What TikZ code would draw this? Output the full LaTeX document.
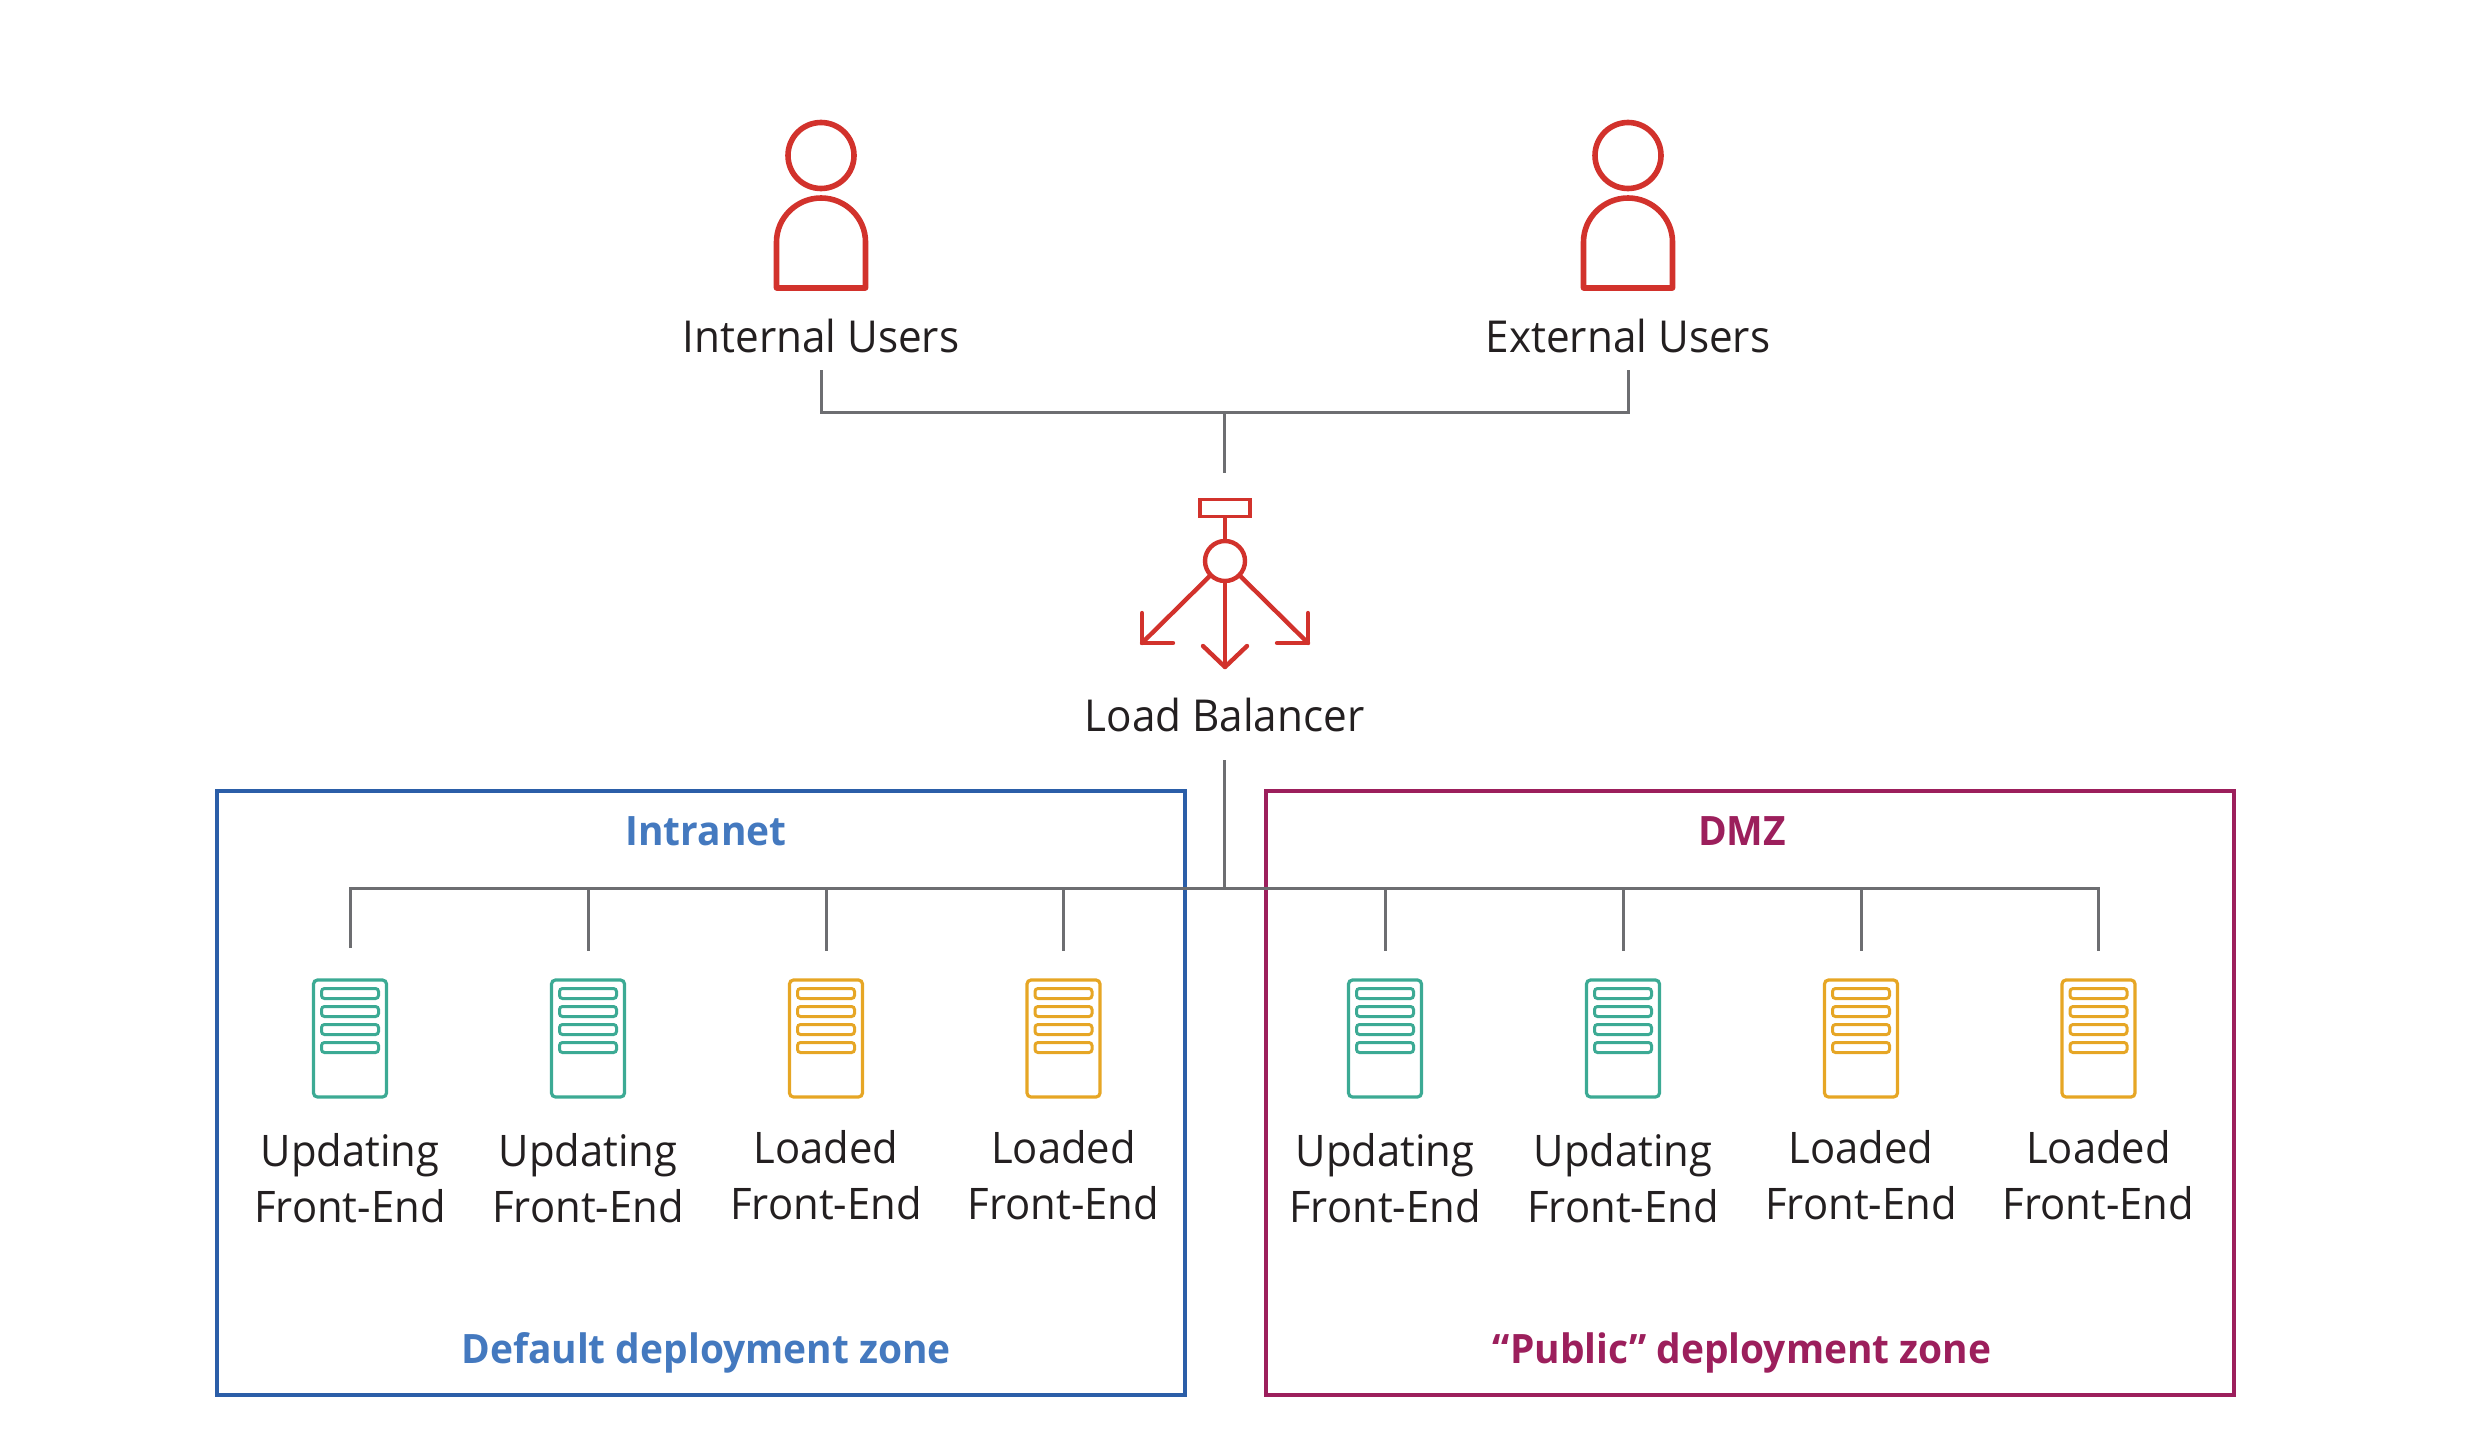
\documentclass[tikz,border=0pt]{standalone}
\usepackage{fontspec}
\setmainfont[FakeStretch=0.96]{Open Sans}
\definecolor{inkdark}{HTML}{231F20}
\definecolor{redicon}{HTML}{D2322C}
\definecolor{graywire}{HTML}{6D6E71}
\definecolor{bluebox}{HTML}{2B5EA8}
\definecolor{bluetext}{HTML}{4479BF}
\definecolor{magbox}{HTML}{9C1F5C}
\definecolor{tealsrv}{HTML}{3CAA94}
\definecolor{orangesrv}{HTML}{E6A625}
\tikzset{
  x=1pt,y=-1pt,
  lbl/.style={font=\fontsize{44}{56}\selectfont,text=inkdark,inner sep=0pt,anchor=base},
  lbltwo/.style={font=\fontsize{43.5}{56}\selectfont,text=inkdark,inner sep=0pt,anchor=base,align=center},
  zonet/.style={font=\fontsize{40.5}{50}\selectfont\bfseries,inner sep=0pt,anchor=base},
  wire/.style={draw=graywire,line width=3pt},
  redline/.style={draw=redicon,line width=4.4pt,line cap=round,line join=round},
  usericon/.style={draw=redicon,line width=5.6pt,line join=round},
  zonebox/.style={draw,line width=4.4pt,minimum width=968pt,minimum height=604pt,inner sep=0pt,fill=none},
  srvbox/.style={draw,line width=3.2pt,rounded corners=4pt,minimum width=73pt,minimum height=117pt,inner sep=0pt},
  srvbar/.style={draw,line width=3pt,rounded corners=3pt,minimum width=57pt,minimum height=10pt,inner sep=0pt},
}
\newcommand{\usericonat}[2]{%
  \node[usericon,circle,minimum size=66pt,inner sep=0pt] (#2head) at (#1,155.5) {};
  \draw[usericon] (#1-44.5,288) -- (#1-44.5,242) .. controls (#1-44.5,217.7) and (#1-24.3,198) .. (#1,198)
     .. controls (#1+24.3,198) and (#1+44.5,217.7) .. (#1+44.5,242) -- (#1+44.5,288) -- cycle;
}
\newcommand{\srvat}[3]{%
  \node[srvbox,draw=#3] (#2) at (#1,1038.5) {};
  \node[srvbar,draw=#3] (#2a) at (#1,993.5) {};
  \node[srvbar,draw=#3] (#2b) at (#1,1011.5) {};
  \node[srvbar,draw=#3] (#2c) at (#1,1029.5) {};
  \node[srvbar,draw=#3] (#2d) at (#1,1047.5) {};
}
\begin{document}
\begin{tikzpicture}
\useasboundingbox (0,0) rectangle (2481,1448);
% zones
\node[zonebox,draw=bluebox] (intranet) at (701,1093) {};
\node[zonebox,draw=magbox] (dmz) at (1750,1093) {};
\node[zonet,text=bluetext] (intranetT) at (706,845) {Intranet};
\node[zonet,text=magbox] (dmzT) at (1742,845) {DMZ};
\node[zonet,text=bluetext] (defT) at (706,1363) {Default deployment zone};
\node[zonet,text=magbox] (pubT) at (1742,1363) {“Public” deployment zone};
% users
\usericonat{821}{int}
\usericonat{1628}{ext}
\node[lbl] (intL) at (821,352) {Internal Users};
\node[lbl] (extL) at (1628,352) {External Users};
% load balancer
\node[draw=redicon,line width=3.6pt,minimum width=50pt,minimum height=17pt,inner sep=0pt] (lbrect) at (1225,508) {};
\node[draw=redicon,line width=4.4pt,circle,minimum size=40pt,inner sep=0pt] (lbcirc) at (1225,561) {};
\draw[redline] (lbrect) -- (lbcirc);
\coordinate (tipL) at (1142,643);
\coordinate (tipM) at (1225,667);
\coordinate (tipR) at (1308,643);
\draw[redline] (lbcirc) -- (tipL);
\draw[redline] (lbcirc) -- (tipM);
\draw[redline] (lbcirc) -- (tipR);
\draw[redline] (1142,613) -- (tipL) -- (1173,643);
\draw[redline] (1203,646) -- (tipM) -- (1247,646);
\draw[redline] (1308,613) -- (tipR) -- (1277,643);
\node[lbl] (lbL) at (1224.5,731) {Load Balancer};
% upper connectors
\coordinate (intEnd) at (821,370);
\coordinate (extEnd) at (1628,370);
\coordinate (junTop) at (1224.5,412);
\coordinate (lbTop) at (1224.5,473);
\draw[wire] (intEnd) |- (junTop) -| (extEnd);
\draw[wire] (junTop) -- (lbTop);
% servers
\srvat{350}{s1}{tealsrv}
\srvat{588}{s2}{tealsrv}
\srvat{826}{s3}{orangesrv}
\srvat{1063.5}{s4}{orangesrv}
\srvat{1385}{s5}{tealsrv}
\srvat{1623}{s6}{tealsrv}
\srvat{1861}{s7}{orangesrv}
\srvat{2098.5}{s8}{orangesrv}
% lower connectors
\coordinate (lbBot) at (1224.5,760);
\coordinate (bus) at (1224.5,888.5);
\draw[wire] (lbBot) -- (bus);
\draw[wire] (350,948) |- (2098.5,888.5) -- (2098.5,951);
\foreach \n/\xx in {s2/588,s3/826,s4/1063.5,s5/1385,s6/1623,s7/1861}{
  \coordinate (\n top) at (\xx,951);
  \draw[wire] (\xx,888.5) -- (\n top);
}
% server labels
\node[lbltwo] (t1) at (350,1222) {Updating\\Front-End};
\node[lbltwo] (t2) at (588,1222) {Updating\\Front-End};
\node[lbltwo] (t3) at (826,1219) {Loaded\\Front-End};
\node[lbltwo] (t4) at (1063.5,1219) {Loaded\\Front-End};
\node[lbltwo] (t5) at (1385,1222) {Updating\\Front-End};
\node[lbltwo] (t6) at (1623,1222) {Updating\\Front-End};
\node[lbltwo] (t7) at (1861,1219) {Loaded\\Front-End};
\node[lbltwo] (t8) at (2098.5,1219) {Loaded\\Front-End};
\end{tikzpicture}
\end{document}
